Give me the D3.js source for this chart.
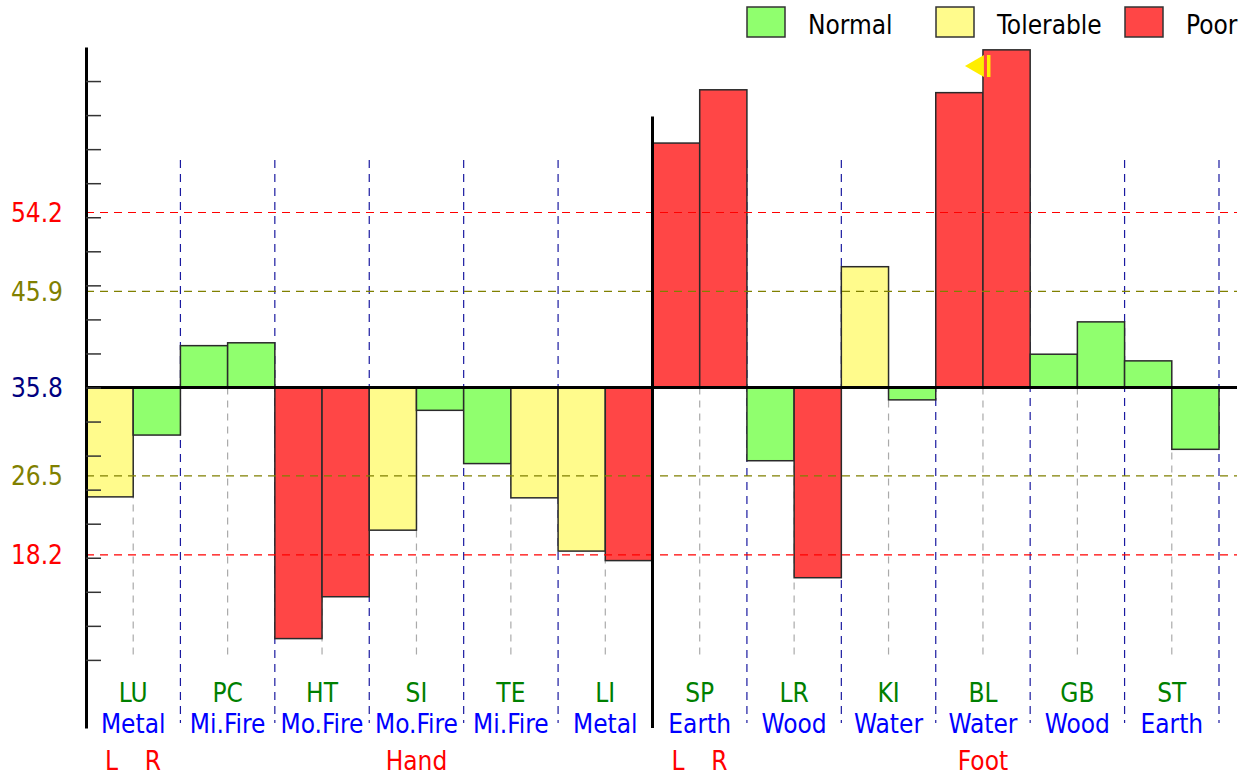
<!DOCTYPE html>
<html>
<head>
<meta charset="utf-8">
<script src="https://cdn.jsdelivr.net/npm/d3@7"></script>
<style>
  body { margin: 0; background: #fff; }
  svg { display: block; font-family: "DejaVu Sans Condensed", "DejaVu Sans", sans-serif; }
</style>
</head>
<body>
<div id="chart"></div>
<script>
// meridian data, left and right side readings
const meridians = ["LU", "PC", "HT", "SI", "TE", "LI", "SP", "LR", "KI", "BL", "GB", "ST"];
const elements = ["Metal", "Mi.Fire", "Mo.Fire", "Mo.Fire", "Mi.Fire", "Metal", "Earth", "Wood", "Water", "Water", "Wood", "Earth"];
const leftValues = [24.3, 40.2, 9.4, 20.8, 27.8, 18.6, 61.5, 28.1, 48.5, 66.8, 39.3, 38.6];
const rightValues = [30.8, 40.5, 13.8, 33.4, 24.2, 17.6, 67.1, 15.8, 34.5, 71.3, 42.7, 29.3];
const leftStatus = ["Tolerable", "Normal", "Poor", "Tolerable", "Normal", "Tolerable", "Poor", "Normal", "Tolerable", "Poor", "Normal", "Normal"];
const rightStatus = ["Normal", "Normal", "Poor", "Normal", "Tolerable", "Poor", "Poor", "Poor", "Normal", "Poor", "Normal", "Normal"];
const statuses = ["Normal", "Tolerable", "Poor"];
const refValues = [54.2, 45.9, 35.8, 26.5, 18.2];
const markerValue = 69.6; // yellow marker on BL right
const midAxisTop = 64.3;

const W = 1251, H = 776;
const baseValue = 35.8;
const tickStep = baseValue / 10;

const statusColor = d3.scaleOrdinal().domain(statuses).range(["#90ff6e", "#fffb8c", "#ff4646"]);
const refColor = d3.scaleOrdinal().domain(refValues).range(["#ff0000", "#808000", "#000080", "#808000", "#ff0000"]);

const x = d3.scaleBand().domain(meridians).range([86, 1219]);
const side = d3.scaleBand().domain(["L", "R"]).range([0, x.bandwidth()]);
const y = d3.scaleLinear().domain([0, baseValue * 2]).range([728, 47]);

const svg = d3.select("#chart").append("svg").attr("width", W).attr("height", H);

const bars = [];
meridians.forEach((m, i) => {
  bars.push({ m, side: "L", v: leftValues[i], s: leftStatus[i] });
  bars.push({ m, side: "R", v: rightValues[i], s: rightStatus[i] });
});

// vertical group separators
svg.append("g")
  .selectAll("line")
  .data(meridians.slice(1).concat(["end"]))
  .join("line")
  .attr("x1", (d) => d === "end" ? x.range()[1] : x(d))
  .attr("x2", (d) => d === "end" ? x.range()[1] : x(d))
  .attr("y1", 160)
  .attr("y2", 723)
  .attr("stroke", "#1a1aa0")
  .attr("stroke-width", 1.2)
  .attr("stroke-dasharray", "8,6");

// center lines under baseline
svg.append("g")
  .selectAll("line")
  .data(meridians)
  .join("line")
  .attr("x1", (d) => x(d) + side("R"))
  .attr("x2", (d) => x(d) + side("R"))
  .attr("y1", y(baseValue))
  .attr("y2", 655)
  .attr("stroke", "#aaaaaa")
  .attr("stroke-width", 1.2)
  .attr("stroke-dasharray", "7,6");

// bars
svg.append("g")
  .selectAll("rect")
  .data(bars)
  .join("rect")
  .attr("x", (d) => x(d.m) + side(d.side))
  .attr("width", side.bandwidth())
  .attr("y", (d) => y(Math.max(d.v, baseValue)))
  .attr("height", (d) => Math.abs(y(d.v) - y(baseValue)))
  .attr("fill", (d) => statusColor(d.s))
  .attr("stroke", "#2a2a2a")
  .attr("stroke-width", 1.5);

// reference lines
svg.append("g")
  .selectAll("line")
  .data(refValues.filter((v) => v !== baseValue))
  .join("line")
  .attr("x1", 86)
  .attr("x2", 1237)
  .attr("y1", (d) => y(d))
  .attr("y2", (d) => y(d))
  .attr("stroke", (d) => refColor(d))
  .attr("stroke-width", 1.2)
  .attr("stroke-dasharray", "8,6");

// baseline
svg.append("line")
  .attr("x1", 86).attr("x2", 1237)
  .attr("y1", y(baseValue)).attr("y2", y(baseValue))
  .attr("stroke", "#000").attr("stroke-width", 3);

// left axis
const axis = svg.append("g")
  .attr("transform", "translate(86,0)")
  .call(d3.axisRight(y)
    .tickValues(d3.range(2, 20).map((i) => i * tickStep))
    .tickSize(15)
    .tickSizeOuter(0)
    .tickFormat(""));
axis.select(".domain").attr("stroke", "#000").attr("stroke-width", 3);
axis.selectAll(".tick line").attr("stroke", "#333").attr("stroke-width", 1.5);

// middle axis
svg.append("line")
  .attr("x1", x("SP")).attr("x2", x("SP"))
  .attr("y1", y(midAxisTop)).attr("y2", y(0))
  .attr("stroke", "#000").attr("stroke-width", 3);

// reference labels
svg.append("g")
  .selectAll("text")
  .data(refValues)
  .join("text")
  .attr("x", 63)
  .attr("y", (d) => y(d))
  .attr("dy", "0.36em")
  .attr("text-anchor", "end")
  .attr("font-size", 26)
  .attr("fill", (d) => refColor(d))
  .text((d) => d.toFixed(1));

// marker on BL right
const mx = x("BL") + side("R");
const my = y(markerValue);
svg.append("path")
  .attr("d", `M${mx - 18},${my} L${mx + 1},${my - 11} L${mx + 1},${my + 11} Z`)
  .attr("fill", "#ffee00");
svg.append("rect")
  .attr("x", mx + 4).attr("y", my - 11)
  .attr("width", 3.5).attr("height", 22)
  .attr("fill", "#ffee00");

// bottom labels
const lab = svg.append("g").attr("text-anchor", "middle").attr("font-size", 26);
lab.selectAll(".code")
  .data(meridians)
  .join("text")
  .attr("x", (d) => x(d) + x.bandwidth() / 2)
  .attr("y", 702)
  .attr("fill", "#008000")
  .text((d) => d);
lab.selectAll(".elem")
  .data(meridians)
  .join("text")
  .attr("x", (d) => x(d) + x.bandwidth() / 2)
  .attr("y", 733)
  .attr("fill", "#0000ff")
  .text((d, i) => elements[i]);

const sideLabels = [];
["LU", "SP"].forEach((m) => ["L", "R"].forEach((s) => sideLabels.push({ m, s })));
lab.selectAll(".side")
  .data(sideLabels)
  .join("text")
  .attr("x", (d) => x(d.m) + side(d.s) + side.bandwidth() / 2 + (d.s === "L" ? 2 : -4))
  .attr("y", 770)
  .attr("fill", "#ff0000")
  .text((d) => d.s);
lab.selectAll(".limb")
  .data([{ m: "SI", t: "Hand" }, { m: "BL", t: "Foot" }])
  .join("text")
  .attr("x", (d) => x(d.m) + x.bandwidth() / 2)
  .attr("y", 770)
  .attr("fill", "#ff0000")
  .text((d) => d.t);

// legend
const legendX = { Normal: 747, Tolerable: 936, Poor: 1125 };
const legend = svg.append("g")
  .selectAll("g")
  .data(statuses)
  .join("g")
  .attr("transform", (d) => `translate(${legendX[d]},7)`);
legend.append("rect")
  .attr("width", 38).attr("height", 30)
  .attr("fill", (d) => statusColor(d))
  .attr("stroke", "#333").attr("stroke-width", 1.5);
legend.append("text")
  .attr("x", 61).attr("y", 27)
  .attr("font-size", 26)
  .attr("fill", "#000")
  .text((d) => d);
</script>
</body>
</html>
